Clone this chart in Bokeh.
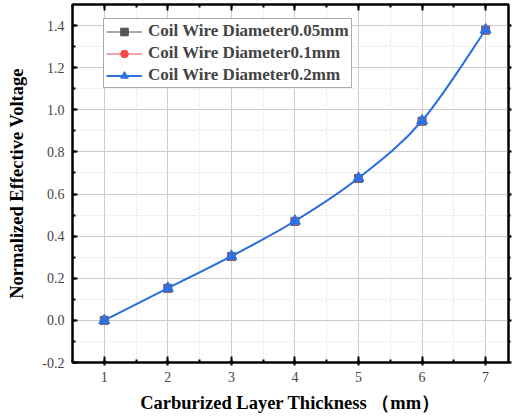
from bokeh.plotting import figure
from bokeh.models import (Range1d, LinearAxis, SingleIntervalTicker, Legend, LegendItem,
                          ColumnDataSource, PrintfTickFormatter, CustomJSTickFormatter)
from bokeh.embed import file_html
from bokeh.resources import INLINE

thickness = [1, 2, 3, 4, 5, 6, 7]
d005 = [0.0, 0.152, 0.303, 0.470, 0.674, 0.946, 1.378]
d01 = [0.0, 0.152, 0.304, 0.471, 0.675, 0.947, 1.379]
d02 = [0.0, 0.153, 0.305, 0.472, 0.676, 0.948, 1.380]
labels = ["Coil Wire Diameter0.05mm", "Coil Wire Diameter0.1mm", "Coil Wire Diameter0.2mm"]
colors = ["#555555", "#f24a4a", "#2b72e3"]
markers = ["square", "circle", "triangle"]
sizes = [8, 8, 11]
widths = [1, 1, 2]

SERIF = "Liberation Serif"

p = figure(width=512, height=418, output_backend="svg", toolbar_location=None,
           x_range=Range1d(0.5, 7.36), y_range=Range1d(-0.2, 1.5),
           min_border_left=72, min_border_right=4, min_border_top=4, min_border_bottom=56)
p.outline_line_color = "black"
p.outline_line_width = 2

xt = SingleIntervalTicker(interval=1, num_minor_ticks=2)
yt = SingleIntervalTicker(interval=0.2, num_minor_ticks=2)
p.xaxis.ticker = xt
p.yaxis.ticker = yt
p.yaxis.formatter = PrintfTickFormatter(format="%.1f")
p.xgrid.ticker = xt
p.ygrid.ticker = yt
for g in (p.xgrid, p.ygrid):
    g.grid_line_color = "#cccccc"
    g.grid_line_width = 1
    g.minor_grid_line_color = "#e2e2e2"
    g.minor_grid_line_dash = "2 2"

for ax in (p.xaxis, p.yaxis):
    ax.axis_line_width = 2
    ax.axis_line_color = "black"
    ax.major_tick_line_width = 2
    ax.major_tick_in = 6
    ax.major_tick_out = 3
    ax.minor_tick_line_width = 2
    ax.minor_tick_in = 3
    ax.minor_tick_out = 0
    ax.major_label_text_font = SERIF
    ax.major_label_text_font_size = "14px"
    ax.major_label_text_color = "#444444"
    ax.axis_label_text_font = SERIF
    ax.axis_label_text_font_style = "bold"
    ax.axis_label_text_font_size = "18.5px"
    ax.axis_label_text_color = "black"

p.xaxis.axis_label = "Carburized Layer Thickness （mm）"
p.yaxis.axis_label = "Normalized Effective Voltage"
p.yaxis.major_tick_out = 0
p.yaxis.major_tick_in = 5
p.yaxis.major_label_standoff = 8
p.xaxis.major_label_standoff = 6
p.xaxis.axis_label_standoff = 8
p.yaxis.axis_label_standoff = 12

blank = CustomJSTickFormatter(code="return '';")
top = LinearAxis(ticker=xt, formatter=blank, axis_line_width=2,
                 major_tick_in=6, major_tick_out=0, minor_tick_in=3, minor_tick_out=0,
                 major_tick_line_width=2, minor_tick_line_width=2, major_label_standoff=0)
right = LinearAxis(ticker=yt, formatter=blank, axis_line_width=2,
                   major_tick_in=0, major_tick_out=3, minor_tick_in=0, minor_tick_out=2,
                   major_tick_line_width=2, minor_tick_line_width=2, major_label_standoff=0)
p.add_layout(top, "above")
p.add_layout(right, "right")


def bezier_source(xs, ys):
    n = len(xs)
    d = dict(x0=[], y0=[], x1=[], y1=[], cx0=[], cy0=[], cx1=[], cy1=[])
    for i in range(n - 1):
        im = max(i - 1, 0)
        ip2 = min(i + 2, n - 1)
        d["x0"].append(xs[i]); d["y0"].append(ys[i])
        d["x1"].append(xs[i + 1]); d["y1"].append(ys[i + 1])
        d["cx0"].append(xs[i] + (xs[i + 1] - xs[im]) / 6)
        d["cy0"].append(ys[i] + (ys[i + 1] - ys[im]) / 6)
        d["cx1"].append(xs[i + 1] - (xs[ip2] - xs[i]) / 6)
        d["cy1"].append(ys[i + 1] - (ys[ip2] - ys[i]) / 6)
    return ColumnDataSource(d)


items = []
for ys, lab, col, mk, sz, lw in zip([d005, d01, d02], labels, colors, markers, sizes, widths):
    src = bezier_source(thickness, ys)
    b = p.bezier(x0="x0", y0="y0", x1="x1", y1="y1", cx0="cx0", cy0="cy0",
                 cx1="cx1", cy1="cy1", source=src, line_color=col, line_width=lw)
    s = p.scatter(thickness, ys, marker=mk, size=sz, fill_color=col, line_color=col)
    items.append(LegendItem(label=lab, renderers=[b, s]))

legend = Legend(items=items, border_line_color="#555555",
                border_line_width=1, background_fill_alpha=1.0,
                label_text_font=SERIF, label_text_font_style="bold",
                label_text_font_size="17px", glyph_width=36, glyph_height=19,
                label_height=19, spacing=2, padding=2, margin=0, label_standoff=6)
legend.location = (31, 274)
p.add_layout(legend, "center")

open("out.html", "w").write(file_html(p, INLINE))
